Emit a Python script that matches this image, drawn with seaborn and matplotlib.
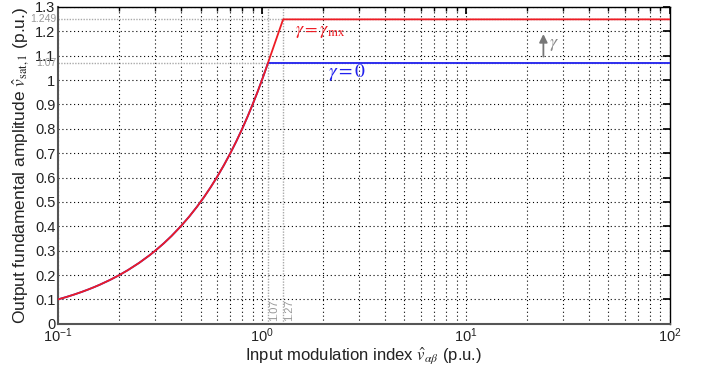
import matplotlib
matplotlib.use("Agg")
import matplotlib.pyplot as plt
import seaborn as sns
import numpy as np
import pandas as pd
from matplotlib.ticker import LogLocator, FixedLocator, NullFormatter

# Data (linear region: output equals input)
x_curve = [0.10, 0.11, 0.12, 0.13, 0.14, 0.15, 0.16, 0.18, 0.20, 0.22, 0.25, 0.28, 0.30,
           0.33, 0.36, 0.40, 0.44, 0.48, 0.52, 0.56, 0.60, 0.65, 0.70, 0.75, 0.80,
           0.85, 0.90, 0.95, 1.00, 1.035, 1.07]
y_curve = [0.10, 0.11, 0.12, 0.13, 0.14, 0.15, 0.16, 0.18, 0.20, 0.22, 0.25, 0.28, 0.30,
           0.33, 0.36, 0.40, 0.44, 0.48, 0.52, 0.56, 0.60, 0.65, 0.70, 0.75, 0.80,
           0.85, 0.90, 0.95, 1.00, 1.035, 1.07]
x_blue = x_curve + [100.0]
y_blue = y_curve + [1.07]
x_red = x_curve + [1.27, 100.0]
y_red = y_curve + [1.249, 1.249]
y_ticks = [0, 0.1, 0.2, 0.3, 0.4, 0.5, 0.6, 0.7, 0.8, 0.9, 1.0, 1.1, 1.2, 1.3]
y_tick_labels = ["0", "0.1", "0.2", "0.3", "0.4", "0.5", "0.6", "0.7", "0.8", "0.9", "1", "1.1", "1.2", "1.3"]
ref_x = [1.07, 1.27]
ref_x_labels = ["1.07", "1.27"]
ref_y = [1.07, 1.249]
ref_y_labels = ["1.07", "1.249"]

sns.set_theme(style="white")
plt.rcParams['font.family'] = ['Liberation Sans', 'DejaVu Sans']
plt.rcParams['mathtext.fontset'] = 'stix'

fig, ax = plt.subplots(figsize=(7.08, 3.65), dpi=100)
fig.subplots_adjust(left=0.082, right=0.946, top=0.981, bottom=0.113)

df_blue = pd.DataFrame({"x": x_blue, "y": y_blue})
df_red = pd.DataFrame({"x": x_red, "y": y_red})
sns.lineplot(data=df_blue, x="x", y="y", ax=ax, color="#2020ee", lw=1.3, sort=False, zorder=3)
sns.lineplot(data=df_red, x="x", y="y", ax=ax, color="#ee1c24", lw=1.3, sort=False, zorder=4)

ax.set_xscale("log")
ax.set_xlim(0.1, 100)
ax.set_ylim(0, 1.3)
ax.xaxis.set_major_locator(LogLocator(base=10, numticks=10))
ax.xaxis.set_minor_locator(LogLocator(base=10, subs=np.arange(2, 10), numticks=100))
ax.xaxis.set_minor_formatter(NullFormatter())
ax.yaxis.set_major_locator(FixedLocator(y_ticks))
ax.set_yticklabels(y_tick_labels)

ax.grid(True, which="major", color="black", ls=(0, (1, 2.5)), lw=0.8)
ax.grid(True, which="minor", axis="x", color="black", ls=(0, (1, 2.5)), lw=0.8)

for s in ax.spines.values():
    s.set_color("black")
    s.set_linewidth(1.0)
ax.spines['left'].set_color("#555555")
ax.spines['bottom'].set_color("#555555")
ax.spines['left'].set_linewidth(1.5)
ax.spines['bottom'].set_linewidth(1.5)

ax.tick_params(which="both", direction="in", top=True, right=True, colors="black",
               labelsize=10.5, labelcolor="#222222", pad=2)
ax.tick_params(which="major", length=5)
ax.tick_params(which="minor", length=3)

# reference lines
for v, lab in zip(ref_x, ref_x_labels):
    ax.axvline(v, color="#aaaaaa", lw=1.0, ls=(0, (1, 1)), zorder=1)
    ax.text(v * 1.012, 0.01, lab, rotation=90, color="#999999", fontsize=8,
            ha="left", va="bottom")
for v, lab in zip(ref_y, ref_y_labels):
    ax.axhline(v, color="#aaaaaa", lw=1.0, ls=(0, (1, 1)), zorder=1)
    ax.text(-0.003, v, lab, transform=ax.get_yaxis_transform(), color="#999999",
            fontsize=7.5, ha="right", va="center")

# annotations
ax.text(1.45, 1.2, r"$\gamma{=}\gamma_{\rm mx}$", color="#ee1c24", fontsize=13,
        ha="left", va="center")
ax.text(2.1, 1.03, r"$\gamma{=}0$", color="#2020ee", fontsize=14,
        ha="left", va="center")
ax.annotate("", xy=(24, 1.2), xytext=(24, 1.085),
            arrowprops=dict(arrowstyle="-|>", color="#777777", lw=1.3, mutation_scale=12))
ax.text(25.5, 1.145, r"$\gamma$", color="#888888", fontsize=13, ha="left", va="center")

ax.set_xlabel(r"Input modulation index $\hat{v}_{\alpha\beta}$ (p.u.)", fontsize=12,
              color="#222222", labelpad=0)
ax.set_ylabel(r"Output fundamental amplitude $\hat{v}_{\rm sat,1}$ (p.u.)", fontsize=12.5,
              color="#222222", labelpad=2)

fig.savefig("out.png", dpi=100)
